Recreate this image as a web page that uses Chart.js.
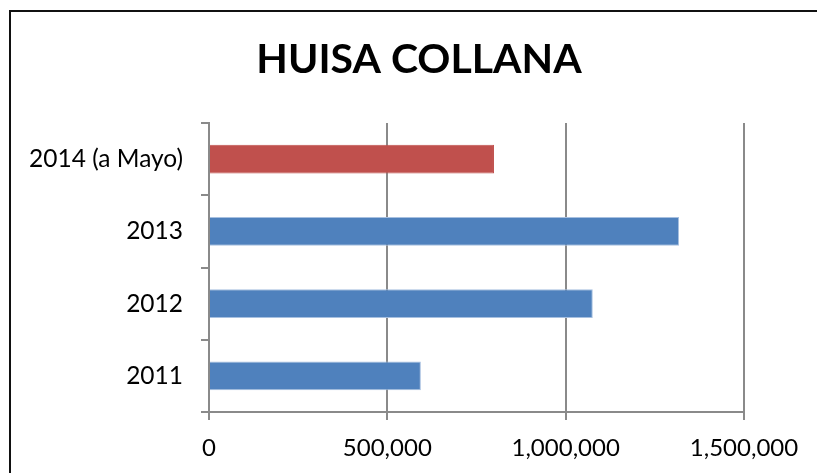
<!DOCTYPE html>
<html>
<head>
<meta charset="utf-8">
<script src="https://cdn.jsdelivr.net/npm/chart.js@4/dist/chart.umd.min.js"></script>
<style>
  html, body { margin: 0; padding: 0; background: #fff; overflow: hidden; }
  #frame {
    position: absolute; left: 9px; top: 10px; width: 900px; height: 600px;
    border-left: 2px solid #111; border-top: 2px solid #111; pointer-events: none;
  }
  #chart { position: absolute; left: 0; top: 0; }
</style>
</head>
<body>
<canvas id="chart" width="817" height="473"></canvas>
<div id="frame"></div>
<script>
// values, listed top to bottom as drawn
const categories = ["2014 (a Mayo)", "2013", "2012", "2011"];
const amounts = [799000, 1318000, 1076000, 594000];
const barColors = ["#C0504D", "#4F81BD", "#4F81BD", "#4F81BD"];
const barEdges = ["#C0504D", "#A7C0E0", "#A7C0E0", "#A7C0E0"];
const xTicks = [0, 500000, 1000000, 1500000];

const font = "Lato";
const axisGray = "#8a8a8a";

new Chart(document.getElementById("chart"), {
  type: "bar",
  data: {
    labels: categories,
    datasets: [
      {
        label: "HUISA COLLANA",
        data: amounts,
        backgroundColor: barColors,
        borderColor: barEdges,
        borderWidth: 1,
        barPercentage: 0.4,
        categoryPercentage: 1,
      },
    ],
  },
  options: {
    indexAxis: "y",
    responsive: false,
    animation: false,
    // title spans the padded width, so this sets its centre near x=419
    layout: { padding: { left: 21, right: 0, top: 0, bottom: 0 } },
    plugins: {
      legend: { display: false },
      tooltip: { enabled: false },
      title: {
        display: true,
        text: "HUISA COLLANA",
        color: "#000",
        font: { family: font, size: 41, weight: "bold", lineHeight: 1.2 },
        padding: { top: 35, bottom: 38.8 },
      },
    },
    scales: {
      x: {
        min: 0,
        max: 1500000,
        afterBuildTicks: (scale) => {
          scale.ticks = xTicks.map((v) => ({ value: v }));
        },
        afterFit: (scale) => {
          scale.height = 61;
        },
        grid: { color: axisGray, lineWidth: 2, tickLength: 8, drawTicks: true },
        border: { display: true, color: axisGray, width: 2 },
        ticks: {
          color: "#000",
          padding: 14,
          font: { family: font, size: 24 },
          callback: (value) => value.toLocaleString("en-US"),
        },
      },
      y: {
        afterFit: (scale) => {
          scale.width = 188;
        },
        grid: {
          offset: true,
          drawOnChartArea: false,
          color: axisGray,
          lineWidth: 2,
          tickLength: 8,
        },
        border: { display: true, color: axisGray, width: 2 },
        ticks: {
          color: "#000",
          padding: 18,
          font: { family: font, size: 24.5 },
        },
      },
      // empty spacer on the right so the plot ends at the 1,500,000 line
      y2: {
        type: "linear",
        position: "right",
        grid: { display: false },
        border: { display: false },
        ticks: { display: false },
        afterFit: (scale) => {
          scale.width = 73;
        },
      },
    },
  },
});
</script>
</body>
</html>
